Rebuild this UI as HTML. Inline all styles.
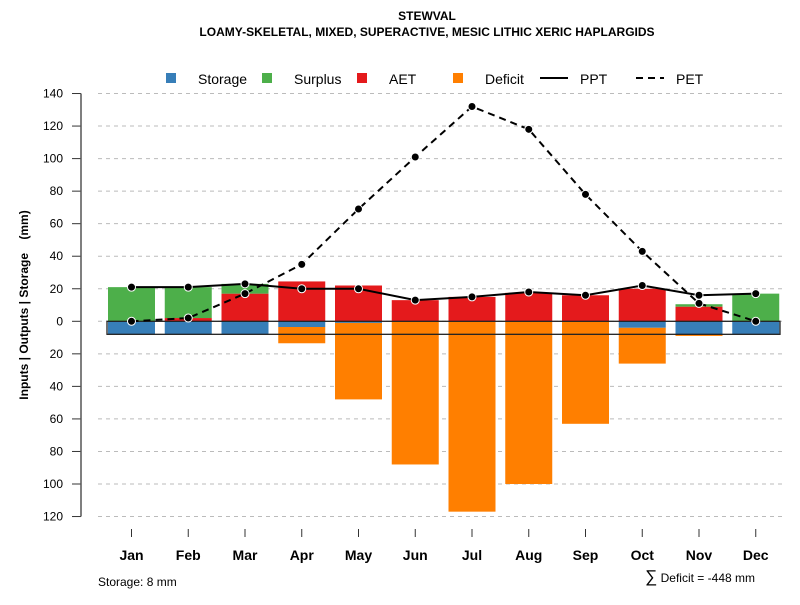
<!DOCTYPE html>
<html><head><meta charset="utf-8"><style>
body{margin:0;background:#fff;font-family:"Liberation Sans",Arial,sans-serif}
svg text{font-family:"Liberation Sans",Arial,sans-serif}
</style></head><body>
<svg id="chart" width="800" height="600" viewBox="0 0 800 600" xmlns="http://www.w3.org/2000/svg">
<rect width="800" height="600" fill="#fff"/>
<text x="427" y="20" text-anchor="middle" font-size="12" font-weight="bold">STEWVAL</text>
<text x="427" y="36" text-anchor="middle" font-size="12" font-weight="bold">LOAMY-SKELETAL, MIXED, SUPERACTIVE, MESIC LITHIC XERIC HAPLARGIDS</text>
<g font-size="14">
 <g><rect x="166" y="73" width="10" height="10" fill="#377eb8"/><text x="198" y="84">Storage</text></g>
 <g><rect x="262" y="73" width="10" height="10" fill="#4daf4a"/><text x="294" y="84">Surplus</text></g>
 <g><rect x="357" y="73" width="10" height="10" fill="#e41a1c"/><text x="389" y="84">AET</text></g>
 <g><rect x="453" y="73" width="10" height="10" fill="#ff7f00"/><text x="485" y="84">Deficit</text></g>
 <g><line x1="540" y1="78" x2="568" y2="78" stroke="#000" stroke-width="2"/><text x="580" y="84">PPT</text></g>
 <g><line x1="636" y1="78" x2="664" y2="78" stroke="#000" stroke-width="2" stroke-dasharray="7,5"/><text x="676" y="84">PET</text></g>
</g>
<text transform="translate(28,305) rotate(-90)" text-anchor="middle" font-size="12" font-weight="bold" style="white-space:pre">Inputs | Outputs | Storage    (mm)</text>
<g id="grid"></g><g id="yaxis"></g><g id="bars"></g><g id="lines"></g><g id="xaxis"></g>
<text x="98" y="586" font-size="12">Storage: 8 mm</text>
<text x="755" y="582" text-anchor="end" font-size="12"><tspan font-size="17">∑</tspan> Deficit = -448 mm</text>
</svg>
<script>
const months=["Jan","Feb","Mar","Apr","May","Jun","Jul","Aug","Sep","Oct","Nov","Dec"];
const storage=[8,8,8,3.5,1,0,0,0,0,4,8,8];
const deficit=[0,0,0,10,47,88,117,100,63,22,1,0];
const aet=[0,2,17,24.5,22,13,15,17.5,16,20,9,0];
const surplus=[21,19,6,0,0,0,0,0,0,0,1.5,17];
const ppt=[21,21,23,20,20,13,15,18,16,22,16,17];
const pet=[0,2,17,35,69,101,132,118,78,43,11,0];
const yTicks=[140,120,100,80,60,40,20,0,-20,-40,-60,-80,-100,-120];
const NS="http://www.w3.org/2000/svg";
const Y=v=>321.3-v*1.627;
const X=i=>131.5+i*56.75;
const BW=47;
function mk(tag,at,parent){const e=document.createElementNS(NS,tag);for(const k in at)e.setAttribute(k,at[k]);document.getElementById(parent).appendChild(e);return e;}
yTicks.forEach(t=>{
 const g=mk('line',{x1:98,x2:782,y1:Y(t),y2:Y(t),stroke:'#bbb','stroke-dasharray':'4,4'},'grid');
 
 
 const tk=mk('line',{x1:72,x2:81,y1:Y(t),y2:Y(t),stroke:'#333'},'yaxis');
 
 
 const tx=mk('text',{x:63,y:Y(t)+4,'text-anchor':'end','font-size':12},'yaxis');
 tx.textContent=Math.abs(t);
 
 
});
const ax=mk('line',{x1:81,x2:81,y1:Y(140),y2:Y(-120),stroke:'#555','stroke-width':1.5},'yaxis');


function bar(i,v0,v1,col,name){
 if(v0===v1)return;
 const r=mk('rect',{x:X(i)-BW/2,y:Math.min(Y(v0),Y(v1)),width:BW,height:Math.abs(Y(v0)-Y(v1)),fill:col},'bars');
 
 
}
months.forEach((m,i)=>{
 bar(i,0,-storage[i],'#377eb8','bar-storage-'+m.toLowerCase());
 bar(i,-storage[i],-storage[i]-deficit[i],'#ff7f00','bar-deficit-'+m.toLowerCase());
 bar(i,0,aet[i],'#e41a1c','bar-aet-'+m.toLowerCase());
 bar(i,aet[i],aet[i]+surplus[i],'#4daf4a','bar-surplus-'+m.toLowerCase());
 const t=mk('line',{x1:X(i),x2:X(i),y1:529,y2:537,stroke:'#333'},'xaxis');
 
 
 const l=mk('text',{x:X(i),y:560,'text-anchor':'middle','font-size':14,'font-weight':'bold'},'xaxis');
 l.textContent=m;
 
 
});
const sb=mk('rect',{x:107,y:Y(0),width:673,height:Y(-8)-Y(0),fill:'none',stroke:'#222','stroke-width':1.3},'bars');


function series(vals,dash,name){
 const p=mk('polyline',{points:vals.map((v,i)=>X(i)+','+Y(v)).join(' '),fill:'none',stroke:'#000','stroke-width':2,'stroke-dasharray':dash},'lines');
 
 
 vals.forEach((v,i)=>{
  const c=mk('circle',{cx:X(i),cy:Y(v),r:4,fill:'#000',stroke:'#fff','stroke-width':1},'lines');
  
  
 });
}
series(pet,'7,5','pet');
series(ppt,'none','ppt');
</script>
</body></html>
